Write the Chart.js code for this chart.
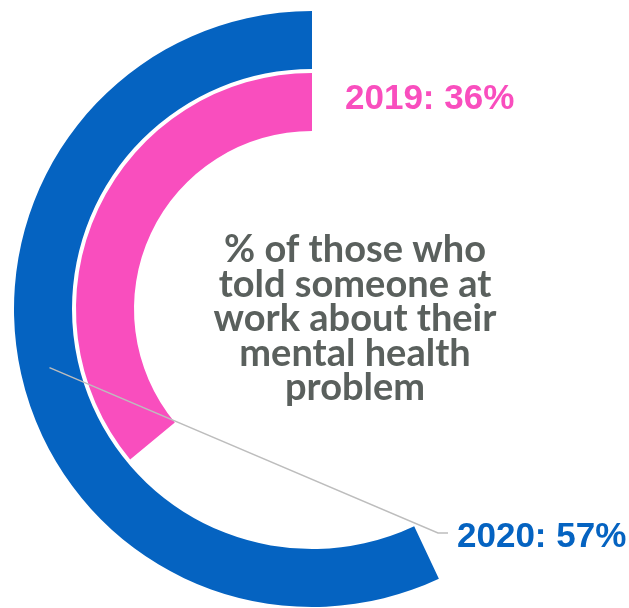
<!DOCTYPE html>
<html lang="en">
<head>
    <meta charset="UTF-8">
    <title>Told someone at work about their mental health problem</title>
    <script src="https://cdn.jsdelivr.net/npm/chart.js"></script>
    <style>
        body {
            margin: 0;
            padding: 0;
            background: #ffffff;
        }
        #chart-container {
            width: 629px;
            height: 608px;
        }
    </style>
</head>
<body>
    <div id="chart-container">
        <canvas id="myChart"></canvas>
    </div>
    <script>
        // Survey results, outer ring first
        const years = ['2020', '2019'];
        const toldPct = [57, 36];
        const ringColors = ['#0563C1', '#F94EBE'];
        const centerLines = ['% of those who', 'told someone at', 'work about their', 'mental health', 'problem'];

        const ctx = document.getElementById('myChart').getContext('2d');

        // each ring: empty part first so the filled part runs counter-clockwise from the top
        function ring(i) {
            return {
                label: years[i],
                data: [100 - toldPct[i], toldPct[i]],
                backgroundColor: ['rgba(0,0,0,0)', ringColors[i]],
                borderWidth: 0,
                weight: 58
            };
        }

        // thin empty ring between the two years
        const gapRing = {
            label: 'gap',
            data: [1],
            backgroundColor: ['rgba(0,0,0,0)'],
            borderWidth: 0,
            weight: 4
        };

        const labelPlugin = {
            id: 'ringLabels',
            afterDraw(chart) {
                const c = chart.ctx;
                const outerArc = chart.getDatasetMeta(0).data[1];
                const cx = outerArc.x;
                const cy = outerArc.y;
                c.save();

                // leader line for the outer ring
                const p = outerArc.tooltipPosition();
                c.strokeStyle = '#BDBDBD';
                c.lineWidth = 1.4;
                c.beginPath();
                c.moveTo(p.x, p.y);
                c.lineTo(cx + 126, cy + 224);
                c.lineTo(cx + 136, cy + 224);
                c.stroke();

                c.font = 'bold 35px "Liberation Sans", Arial, sans-serif';
                c.textAlign = 'left';
                c.textBaseline = 'alphabetic';
                c.fillStyle = ringColors[0];
                c.fillText(years[0] + ': ' + toldPct[0] + '%', cx + 145, cy + 238);
                c.fillStyle = ringColors[1];
                c.fillText(years[1] + ': ' + toldPct[1] + '%', cx + 33, cy - 200);

                // centre caption
                c.font = 'bold 38px Lato, sans-serif';
                c.textAlign = 'center';
                c.fillStyle = '#5A605D';
                centerLines.forEach((line, i) => {
                    c.fillText(line, cx + 43, cy - 47 + i * 34.5);
                });
                c.restore();
            }
        };

        new Chart(ctx, {
            type: 'doughnut',
            data: {
                labels: ['not told', 'told'],
                datasets: [ring(0), gapRing, ring(1)]
            },
            options: {
                responsive: true,
                maintainAspectRatio: false,
                animation: false,
                cutout: 178,
                rotation: 0,
                circumference: 360,
                layout: {
                    padding: { left: 14, right: 19, top: 11, bottom: 1 }
                },
                events: [],
                plugins: {
                    legend: { display: false },
                    tooltip: { enabled: false }
                }
            },
            plugins: [labelPlugin]
        });
    </script>
</body>
</html>
